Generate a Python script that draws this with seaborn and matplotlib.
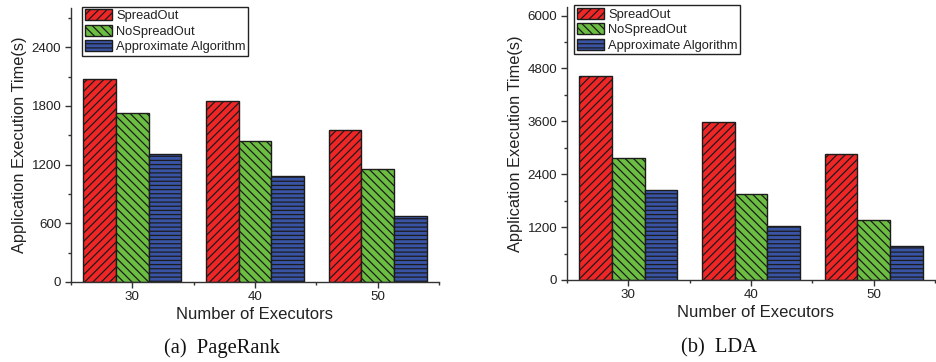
import matplotlib
matplotlib.use("Agg")
import matplotlib.pyplot as plt
from matplotlib.patches import Patch
from matplotlib.ticker import MultipleLocator, FixedLocator
import seaborn as sns
import pandas as pd

# Executor counts on the x axis
executors = [30, 40, 50]
methods = ["SpreadOut", "NoSpreadOut", "Approximate Algorithm"]

# PageRank execution times (s)
pagerank_spreadout = [2077, 1845, 1556]
pagerank_nospreadout = [1726, 1437, 1157]
pagerank_approx = [1307, 1086, 671]

# LDA execution times (s)
lda_spreadout = [4628, 3588, 2864]
lda_nospreadout = [2774, 1952, 1372]
lda_approx = [2035, 1236, 776]

colors = ["#F02626", "#6CBE42", "#3A54A5"]
hatches = ["////", "\\\\\\\\", "----"]
edge = "#1c1c1c"

sns.set_style("ticks")
plt.rcParams["font.family"] = ["Liberation Sans", "DejaVu Sans"]
plt.rcParams["hatch.linewidth"] = 0.9
plt.rcParams["hatch.color"] = edge


def long_table(series):
    rows = []
    for m, vals in zip(methods, series):
        for e, v in zip(executors, vals):
            rows.append({"Executors": e, "Method": m, "Time": v})
    return pd.DataFrame(rows)


fig = plt.figure(figsize=(9.37, 3.62), dpi=100)
ax1 = fig.add_axes([71 / 937, 1 - 282 / 362, 368 / 937, 274 / 362])
ax2 = fig.add_axes([567 / 937, 1 - 280 / 362, 368 / 937, 273.3 / 362])

panels = [
    (ax1, [pagerank_spreadout, pagerank_nospreadout, pagerank_approx], 2800, 600, 300,
     "(a)  PageRank", 222, 0.03, 0.5),
    (ax2, [lda_spreadout, lda_nospreadout, lda_approx], 6200, 1200, 600,
     "(b)  LDA", 719, 0.019, 0.513),
]

for ax, series, ytop, major, minor, caption, cap_x, anchor_x, xl_x in panels:
    df = long_table(series)
    sns.barplot(data=df, x="Executors", y="Time", hue="Method",
                hue_order=methods, palette=colors, saturation=1,
                edgecolor=edge, linewidth=1.0, width=0.8,
                legend=False, ax=ax, zorder=2)
    for cont, h in zip(ax.containers, hatches):
        for bar in cont:
            bar.set_hatch(h)
            bar.set_edgecolor(edge)

    ax.set_xlim(-0.5, 2.5)
    ax.set_ylim(0, ytop)
    ax.yaxis.set_major_locator(MultipleLocator(major))
    ax.yaxis.set_minor_locator(MultipleLocator(minor))
    ax.xaxis.set_minor_locator(FixedLocator([-0.5, 0.5, 1.5, 2.5]))

    for side in ("top", "right"):
        ax.spines[side].set_visible(False)
    for side in ("left", "bottom"):
        ax.spines[side].set_color("#333333")
        ax.spines[side].set_linewidth(1.0)

    ax.tick_params(axis="both", which="major", direction="out", length=4,
                   width=1.0, color="#333333", labelcolor="#222222")
    ax.tick_params(axis="y", which="major", pad=3)
    ax.tick_params(axis="x", which="major", pad=2.5)
    ax.tick_params(axis="both", which="minor", direction="out", length=2.5,
                   width=1.0, color="#333333")
    for lab in ax.get_xticklabels() + ax.get_yticklabels():
        lab.set_fontsize(9.6)

    ax.set_xlabel("Number of Executors", fontsize=12, color="#222222")
    ax.set_ylabel("Application Execution Time(s)", fontsize=11.8,
                  color="#222222")
    ax.xaxis.set_label_coords(xl_x, -0.09)
    ax.yaxis.set_label_coords(-0.12, 0.5)

    handles = [Patch(facecolor=c, edgecolor=edge, hatch=h, linewidth=1.0,
                     label=m) for c, h, m in zip(colors, hatches, methods)]
    leg = ax.legend(handles=handles, loc="upper left",
                    bbox_to_anchor=(anchor_x, 1.005), borderaxespad=0,
                    fontsize=9.3, frameon=True, fancybox=False, shadow=False,
                    handlelength=2.15, handleheight=0.92, handletextpad=0.3,
                    labelspacing=0.2, borderpad=0.2)
    leg.get_frame().set_edgecolor("#222222")
    leg.get_frame().set_linewidth(1.0)
    leg.get_frame().set_alpha(1)
    for t in leg.get_texts():
        t.set_color("#222222")

    fig.text(cap_x / 937, 1 - 348 / 362, caption, ha="center", va="center",
             fontsize=14.8, family=["Liberation Serif", "DejaVu Serif"],
             color="#111111")

fig.savefig("out.png", dpi=100)
